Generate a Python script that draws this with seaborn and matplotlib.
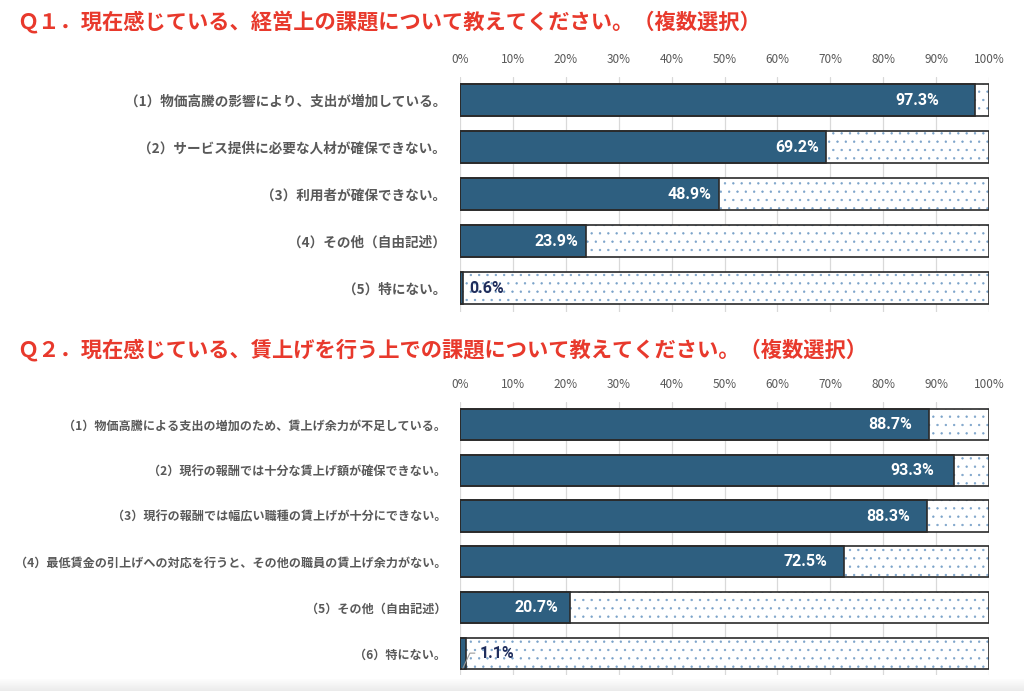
import numpy as np
import pandas as pd
import matplotlib
matplotlib.use("Agg")
import matplotlib.pyplot as plt
from matplotlib.colors import LinearSegmentedColormap
import seaborn as sns

# ---- data ----
q1_title = "Ｑ１．現在感じている、経営上の課題について教えてください。（複数選択）"
q1_labels = [
    "（1）物価高騰の影響により、支出が増加している。",
    "（2）サービス提供に必要な人材が確保できない。",
    "（3）利用者が確保できない。",
    "（4）その他（自由記述）",
    "（5）特にない。",
]
q1_values = [97.3, 69.2, 48.9, 23.9, 0.6]

q2_title = "Ｑ２．現在感じている、賃上げを行う上での課題について教えてください。（複数選択）"
q2_labels = [
    "（1）物価高騰による支出の増加のため、賃上げ余力が不足している。",
    "（2）現行の報酬では十分な賃上げ額が確保できない。",
    "（3）現行の報酬では幅広い職種の賃上げが十分にできない。",
    "（4）最低賃金の引上げへの対応を行うと、その他の職員の賃上げ余力がない。",
    "（5）その他（自由記述）",
    "（6）特にない。",
]
q2_values = [88.7, 93.3, 88.3, 72.5, 20.7, 1.1]

x_ticks = list(range(0, 101, 10))

# ---- style ----
NAVY = "#2e5f80"
EDGE = "#2a2a2a"
DOT = "#7aa2c9"
RED = "#e8392c"
GREY = "#595959"
SMALL_LABEL = "#1f2d5c"

# value label offsets (pixels from bar end)
q1_dx = [-57, -29, -29, -30, 23]
q2_dx = [-39, -41, -39, -38, -33, 32]

sns.set_theme(style="white")
plt.rcParams["font.family"] = ["Noto Sans CJK JP", "DejaVu Sans"]
plt.rcParams["hatch.linewidth"] = 0.45

W, H = 1024, 691
fig = plt.figure(figsize=(W / 100, H / 100), dpi=100)


def px_axes(left, top, right, bottom):
    return fig.add_axes([left / W, 1 - bottom / H, (right - left) / W, (bottom - top) / H])


def draw_panel(ax, labels, values, dx, label_size, ylim, leader=False):
    df = pd.DataFrame({"item": labels, "value": values, "total": 100.0})

    # dotted remainder (full-width background)
    n0 = len(ax.patches)
    sns.barplot(data=df, x="total", y="item", orient="h", color="white",
                saturation=1, width=0.68, ax=ax)
    for p in ax.patches[n0:]:
        p.set_facecolor("white")
        p.set_edgecolor(DOT)
        p.set_linewidth(0)
        p.set_hatch("..")

    # answered share
    n0 = len(ax.patches)
    sns.barplot(data=df, x="value", y="item", orient="h", color=NAVY,
                saturation=1, width=0.68, ax=ax)
    for p in ax.patches[n0:]:
        p.set_facecolor(NAVY)
        p.set_edgecolor(EDGE)
        p.set_linewidth(1.2)

    # outline of the 100% bar
    n0 = len(ax.patches)
    sns.barplot(data=df, x="total", y="item", orient="h", color=EDGE,
                saturation=1, width=0.68, ax=ax)
    for p in ax.patches[n0:]:
        p.set_facecolor("none")
        p.set_edgecolor(EDGE)
        p.set_linewidth(1.2)

    for i, (v, d) in enumerate(zip(values, dx)):
        small = v < 10
        kw = dict(ha="center", va="center", fontsize=11.5, fontweight="bold",
                  family=["Roboto", "DejaVu Sans"],
                  color=SMALL_LABEL if small else "white")
        if small and leader:
            ax.annotate(f"{v:.1f}%", xy=(v * 0.5, i + 0.32), xytext=(d + 2, 15),
                        textcoords="offset pixels",
                        arrowprops=dict(arrowstyle="-", color="#9a9a9a", lw=0.8,
                                        shrinkA=1, shrinkB=0, relpos=(0, 0.5),
                                        connectionstyle="angle,angleA=0,angleB=65,rad=0"),
                        **kw)
        else:
            ax.annotate(f"{v:.1f}%", xy=(v, i), xytext=(d, 0),
                        textcoords="offset pixels", **kw)

    ax.set_xlim(0, 100)
    ax.set_ylim(*ylim)
    ax.set_xticks(x_ticks)
    ax.set_xticklabels([f"{t}%" for t in x_ticks])
    ax.xaxis.tick_top()
    ax.tick_params(axis="x", length=0, pad=8, labelsize=8.5, labelcolor=GREY)
    ax.tick_params(axis="y", length=0, pad=10, labelsize=label_size, labelcolor=GREY)
    for t in ax.get_yticklabels():
        t.set_fontweight("bold")
    ax.grid(axis="x", color="#d9d9d9", lw=0.9)
    ax.grid(axis="y", visible=False)
    ax.set_axisbelow(True)
    ax.set_xlabel("")
    ax.set_ylabel("")
    for s in ax.spines.values():
        s.set_visible(False)


ax1 = px_axes(460, 77, 989, 312)
draw_panel(ax1, q1_labels, q1_values, q1_dx, 9.8, (4.51, -0.49))

ax2 = px_axes(460, 402, 989, 675)
draw_panel(ax2, q2_labels, q2_values, q2_dx, 8.7, (5.47, -0.49), leader=True)

fig.text(17 / W, 1 - 22 / H, q1_title, color=RED, fontsize=15.3, fontweight="bold",
         va="center", ha="left")
fig.text(17 / W, 1 - 350 / H, q2_title, color=RED, fontsize=15.3, fontweight="bold",
         va="center", ha="left")

# faint grey band at the bottom edge
bax = fig.add_axes([0, 0, 1, 12 / H])
grad = np.linspace(0, 1, 50).reshape(-1, 1)
cmap = LinearSegmentedColormap.from_list("band", ["white", "#ebebeb"])
bax.imshow(grad, aspect="auto", cmap=cmap, extent=[0, 1, 0, 1], origin="upper")
bax.set_axis_off()

fig.savefig("out.png", dpi=100)
